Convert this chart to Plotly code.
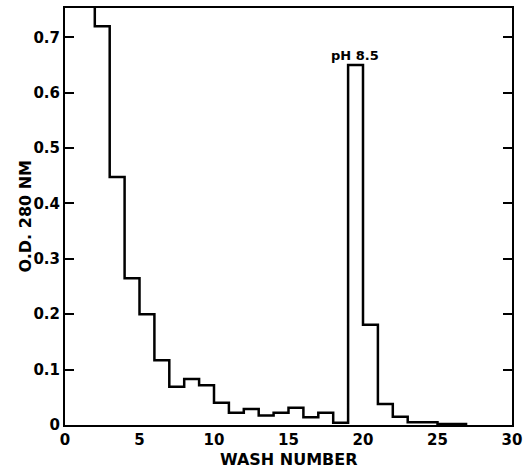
import plotly.graph_objects as go

# step edges (wash number) and O.D. value of the step that starts at each edge
wash_edges = [1, 2, 3, 4, 5, 6, 7, 8, 9, 10, 11, 12, 13, 14, 15, 16, 17, 18, 19, 20,
              21, 22, 23, 25, 27]
od_values = [0.95, 0.72, 0.448, 0.265, 0.200, 0.117, 0.069, 0.083, 0.072, 0.040,
             0.022, 0.029, 0.017, 0.022, 0.031, 0.014, 0.022, 0.004, 0.650, 0.181,
             0.038, 0.015, 0.005, 0.002, 0.002]

y_ticks = [0, 0.1, 0.2, 0.3, 0.4, 0.5, 0.6, 0.7]
y_labels = ["0", "0.1", "0.2", "0.3", "0.4", "0.5", "0.6", "0.7"]
x_ticks = [0, 5, 10, 15, 20, 25, 30]

FONT = dict(family="DejaVu Sans, sans-serif", size=15, color="black", weight="bold")

fig = go.Figure()
fig.add_trace(go.Scatter(
    x=wash_edges, y=od_values, mode="lines",
    line=dict(color="black", width=2.5, shape="hv"),
    showlegend=False, hoverinfo="skip",
))

fig.add_annotation(x=19.45, y=0.668, text="pH 8.5", showarrow=False,
                   font=dict(family="DejaVu Sans, sans-serif", size=13, color="black", weight="bold"))

# axis titles placed by hand so the margins stay fixed
fig.add_annotation(x=0.5, y=0, xref="paper", yref="paper", yanchor="middle", yshift=-34,
                   text="WASH NUMBER", showarrow=False, font=dict(size=16))
fig.add_annotation(x=0, y=0.5, xref="paper", yref="paper", xanchor="center", xshift=-40,
                   text="O.D. 280 NM", textangle=-90, showarrow=False, font=dict(size=16))

fig.update_layout(
    width=523, height=470, font=FONT,
    plot_bgcolor="white", paper_bgcolor="white",
    margin=dict(l=65, r=11, t=8, b=45, autoexpand=False),
    xaxis=dict(range=[0, 30], tickvals=x_ticks, showgrid=False, zeroline=False,
               showline=True, linecolor="black", linewidth=2, mirror=True,
               ticks="", ticklen=0, automargin=False),
    yaxis=dict(range=[0, 0.753], tickvals=y_ticks, ticktext=y_labels, showgrid=False,
               zeroline=False, showline=True, linecolor="black", linewidth=2,
               mirror="allticks", ticks="inside", ticklen=9, tickwidth=2, tickcolor="black",
               automargin=False),
)

# drop the page's default body margin so the figure fills the window exactly
fig.write_html("out.html", config={"displayModeBar": False},
               post_script="document.body.style.margin='0';document.body.style.overflow='hidden';")
